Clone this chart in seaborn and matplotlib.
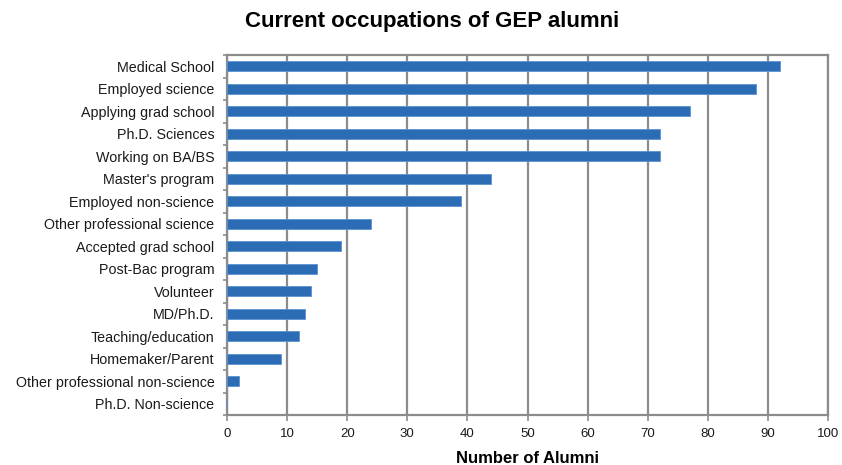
import seaborn as sns
import pandas as pd
import numpy as np
import matplotlib.pyplot as plt
from matplotlib.ticker import FixedLocator

categories = ["Medical School", "Employed science", "Applying grad school", "Ph.D. Sciences",
              "Working on BA/BS", "Master's program", "Employed non-science",
              "Other professional science", "Accepted grad school", "Post-Bac program",
              "Volunteer", "MD/Ph.D.", "Teaching/education", "Homemaker/Parent",
              "Other professional non-science", "Ph.D. Non-science"]
alumni = [92, 88, 77, 72, 72, 44, 39, 24, 19, 15, 14, 13, 12, 9, 2, 0]

df = pd.DataFrame({"occupation": categories, "count": alumni})

sns.set_style("white")
plt.rcParams['font.family'] = ['Liberation Sans', 'DejaVu Sans']

grey = "#8c8c8c"
txt = "#1a1a1a"
fig = plt.figure(figsize=(8.42, 4.65), dpi=100)
ax = fig.add_axes([0.2696, 0.1075, 0.7138, 0.7742])

sns.barplot(data=df, x="count", y="occupation", color="#2b6cb4", width=0.45,
            edgecolor="#5b93d3", linewidth=0.6, saturation=1, ax=ax, zorder=3)

ax.set_xlim(0, 100)
ax.set_xticks(range(0, 101, 10))
ax.set_ylim(len(categories) - 0.5, -0.5)
ax.grid(axis="x", color=grey, linewidth=1.6, zorder=0)
ax.set_axisbelow(True)
for s in ax.spines.values():
    s.set_color(grey)
    s.set_linewidth(1.6)

ax.yaxis.set_minor_locator(FixedLocator(np.arange(-0.5, len(categories), 1)))
ax.tick_params(axis="y", which="major", length=0, labelsize=10.3, pad=9, labelcolor=txt)
ax.tick_params(axis="y", which="minor", length=3, color=grey, width=1.2, left=True)
ax.tick_params(axis="x", which="major", length=4, color=grey, width=1.2, labelsize=9.5,
               bottom=True, pad=5, labelcolor=txt)

ax.set_ylabel("")
ax.set_xlabel("Number of Alumni", fontsize=12, fontweight="bold", labelpad=8, color="black")
fig.text(0.513, 0.953, "Current occupations of GEP alumni", fontsize=16, fontweight="bold",
         ha="center", va="center", color="black")

fig.savefig("out.png", dpi=100)
